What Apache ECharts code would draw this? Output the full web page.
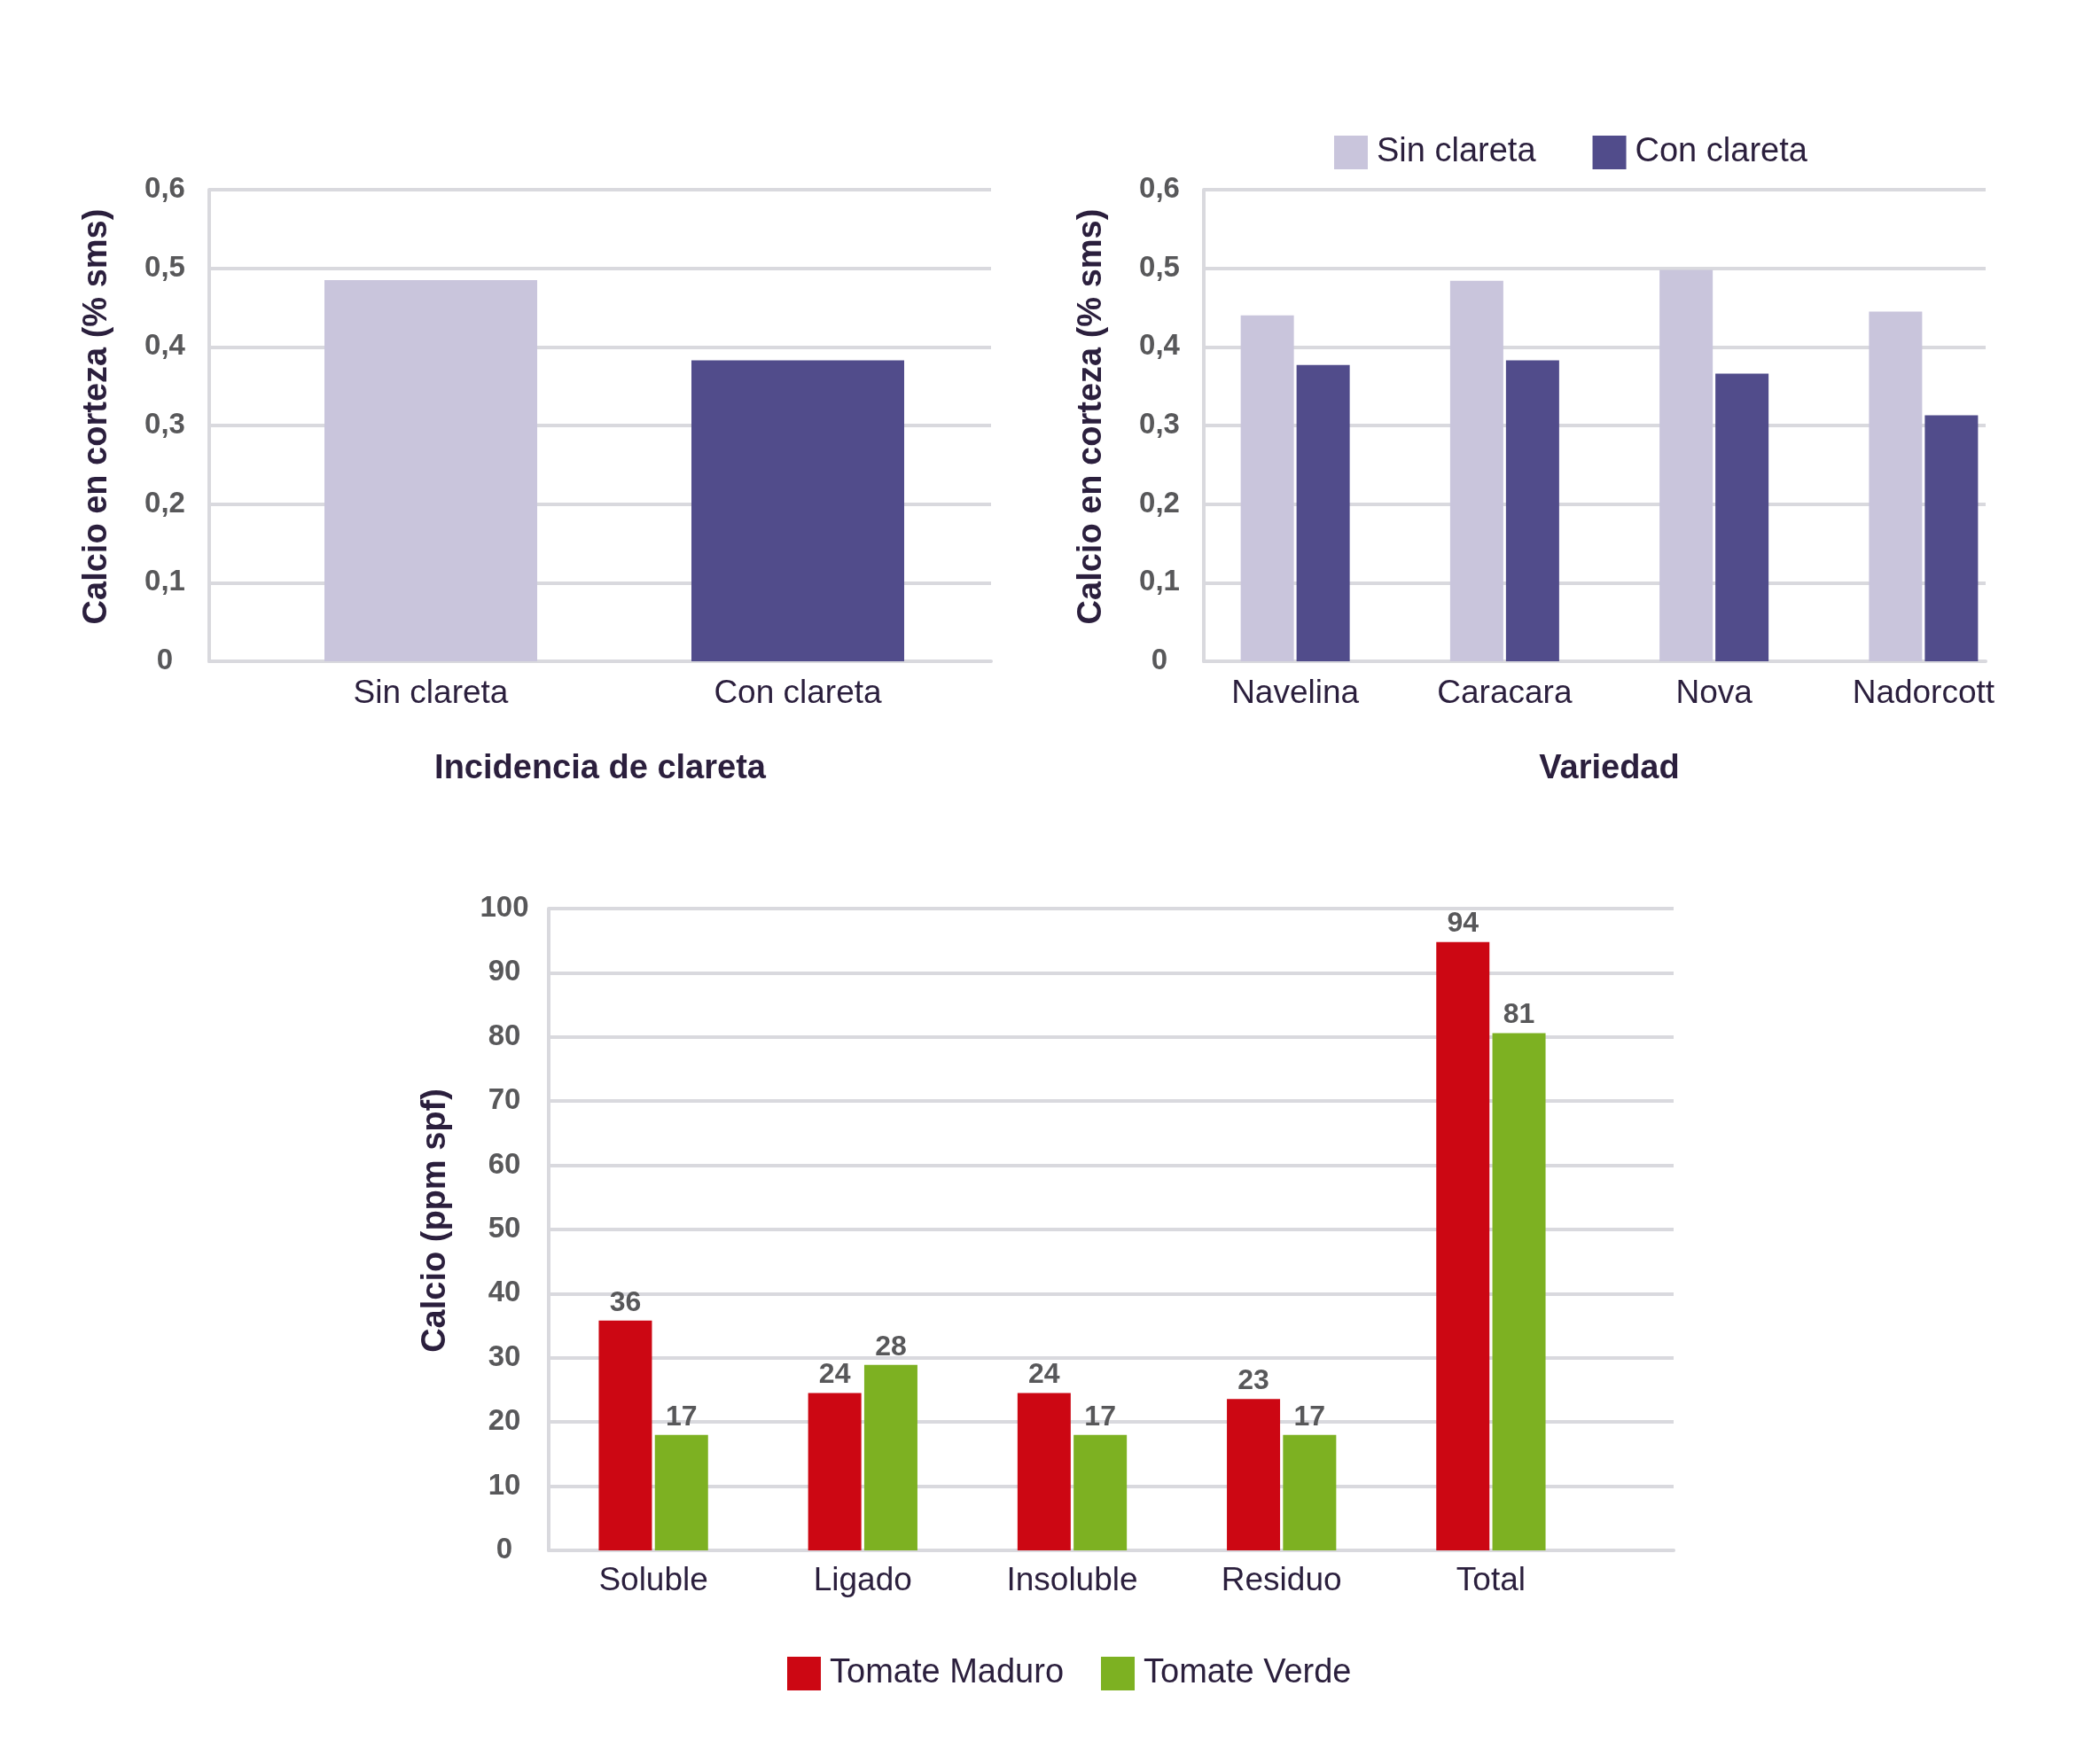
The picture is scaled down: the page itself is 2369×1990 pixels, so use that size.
<!DOCTYPE html>
<html><head><meta charset="utf-8">
<script src="https://cdn.jsdelivr.net/npm/echarts@6/dist/echarts.min.js"></script>
<style>html,body{margin:0;padding:0;background:#fff}#c{width:2369px;height:1990px}</style>
</head><body><div id="c"></div>
<script>
// ---- data ----
const incidenceCategories = ['Sin clareta', 'Con clareta'];
const incidenceValues = [0.485, 0.383];

const varietyCategories = ['Navelina', 'Caracara', 'Nova', 'Nadorcott'];
const sinClaretaValues = [0.440, 0.484, 0.498, 0.445];
const conClaretaValues = [0.377, 0.383, 0.366, 0.313];

const fractionCategories = ['Soluble', 'Ligado', 'Insoluble', 'Residuo', 'Total'];
const maduroValues = [35.8, 24.5, 24.5, 23.6, 94.8];
const verdeValues = [18.0, 28.9, 18.0, 18.0, 80.6];
const maduroLabels = ['36', '24', '24', '23', '94'];
const verdeLabels = ['17', '28', '17', '17', '81'];

// ---- styles ----
const LIGHT = '#c9c5dc', DARK = '#514c8b', RED = '#cc0713', GREEN = '#7db122';
const GRIDC = '#d9d9de', TICKC = '#58585a', TEXTC = '#2b1f3d';
const FONT = "'Liberation Sans', Arial, sans-serif";

const comma = v => v === 0 ? '0' : v.toFixed(1).replace('.', ',');

function visAxisY(grid, max, interval, name, fmt, gap, labPad) {
  return {
    gridIndex: grid, type: 'value', min: 0, max: max, interval: interval,
    axisLine: { show: true, lineStyle: { color: GRIDC, width: 4 } },
    axisTick: { show: false },
    splitLine: { show: true, lineStyle: { color: GRIDC, width: 4 } },
    axisLabel: { formatter: fmt, align: 'center', margin: 50, fontSize: 33, fontWeight: 'bold',
      color: TICKC, fontFamily: FONT, padding: labPad },
    name: name, nameLocation: 'middle', nameGap: gap, nameRotate: 90,
    nameTextStyle: { fontSize: 38, fontWeight: 'bold', color: TEXTC, fontFamily: FONT, padding: [0, 0, 0, 20] }
  };
}
function hidAxisY(grid, max) {
  return { gridIndex: grid, type: 'value', min: 0, max: max, show: false };
}
function visAxisX(grid, cats, name) {
  return {
    gridIndex: grid, type: 'category', data: cats,
    axisLine: { show: true, lineStyle: { color: GRIDC, width: 4 } },
    axisTick: { show: false }, axisLabel: { show: false },
    name: name || '', nameLocation: 'middle', nameGap: 103,
    nameTextStyle: { fontSize: 38, fontWeight: 'bold', color: TEXTC, fontFamily: FONT }
  };
}
function labAxisX(grid, cats, margin, name) {
  return {
    gridIndex: grid, type: 'category', data: cats,
    axisLine: { show: false }, axisTick: { show: false },
    axisLabel: { margin: margin, fontSize: 37, color: TEXTC, fontFamily: FONT },
    name: name || '', nameLocation: 'middle', nameGap: 103,
    nameTextStyle: { fontSize: 38, fontWeight: 'bold', color: TEXTC, fontFamily: FONT }
  };
}

const legendText = { fontSize: 38, color: TEXTC, fontFamily: FONT, padding: [0, 0, 0, 5] };

const option = {
  animation: false,
  backgroundColor: '#ffffff',
  textStyle: { fontFamily: FONT },
  grid: [
    { left: 236, top: 214, width: 882, height: 532 },
    { left: 279, top: 214, width: 828, height: 532 },
    { left: 1358, top: 214, width: 882, height: 532 },
    { left: 1343, top: 214, width: 945, height: 532 },
    { left: 619, top: 1025, width: 1269, height: 724 },
    { left: 619, top: 1025, width: 1181, height: 724 }
  ],
  xAxis: [
    visAxisX(0, incidenceCategories, 'Incidencia de clareta'),
    labAxisX(1, incidenceCategories, 18),
    visAxisX(2, varietyCategories),
    labAxisX(3, varietyCategories, 18, 'Variedad'),
    visAxisX(4, fractionCategories),
    labAxisX(5, fractionCategories, 16)
  ],
  yAxis: [
    visAxisY(0, 0.6, 0.1, 'Calcio en corteza (% sms)', comma, 107, [0, 0, 8, 0]),
    hidAxisY(1, 0.6),
    visAxisY(2, 0.6, 0.1, 'Calcio en corteza (% sms)', comma, 107, [0, 0, 8, 0]),
    hidAxisY(3, 0.6),
    visAxisY(4, 100, 10, 'Calcio (ppm spf)', v => String(v), 108, [0, 0, 2, 0]),
    hidAxisY(5, 100)
  ],
  legend: [
    {
      data: ['Sin clareta', 'Con clareta'], left: 1500, top: 148,
      itemWidth: 38, itemHeight: 38, itemGap: 64, icon: 'rect',
      textStyle: legendText
    },
    {
      data: ['Tomate Maduro', 'Tomate Verde'], left: 883, top: 1864,
      itemWidth: 38, itemHeight: 38, itemGap: 42, icon: 'rect',
      textStyle: legendText
    }
  ],
  series: [
    {
      name: 'Incidencia', type: 'bar', xAxisIndex: 1, yAxisIndex: 1, barWidth: 240,
      data: incidenceValues.map((v, i) => ({ value: v, itemStyle: { color: [LIGHT, DARK][i] } }))
    },
    {
      name: 'Sin clareta', type: 'bar', xAxisIndex: 3, yAxisIndex: 3, barWidth: 60, barGap: '5%',
      itemStyle: { color: LIGHT }, data: sinClaretaValues
    },
    {
      name: 'Con clareta', type: 'bar', xAxisIndex: 3, yAxisIndex: 3, barWidth: 60, barGap: '5%',
      itemStyle: { color: DARK }, data: conClaretaValues
    },
    {
      name: 'Tomate Maduro', type: 'bar', xAxisIndex: 5, yAxisIndex: 5, barWidth: 60, barGap: '5.5%',
      itemStyle: { color: RED }, data: maduroValues,
      label: { show: true, position: 'top', distance: 4, formatter: p => maduroLabels[p.dataIndex],
        fontSize: 32, fontWeight: 'bold', color: TICKC, fontFamily: FONT }
    },
    {
      name: 'Tomate Verde', type: 'bar', xAxisIndex: 5, yAxisIndex: 5, barWidth: 60, barGap: '5.5%',
      itemStyle: { color: GREEN }, data: verdeValues,
      label: { show: true, position: 'top', distance: 4, formatter: p => verdeLabels[p.dataIndex],
        fontSize: 32, fontWeight: 'bold', color: TICKC, fontFamily: FONT }
    }
  ]
};

const chart = echarts.init(document.getElementById('c'), null, { renderer: 'canvas' });
chart.setOption(option);
</script>
</body></html>
